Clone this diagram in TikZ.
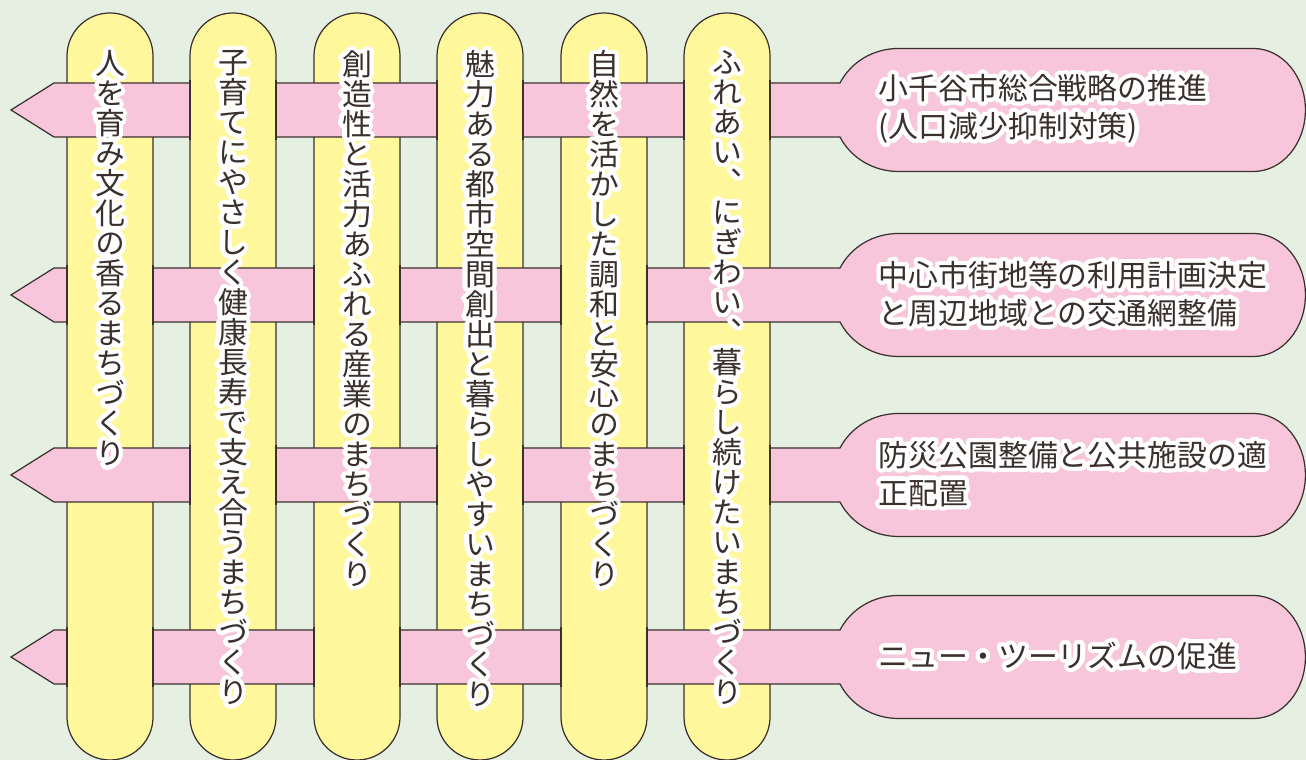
\documentclass[tikz,border=0pt]{standalone}
\usepackage{fontspec}
\usepackage[copies]{contour}
\setmainfont{Noto Sans CJK JP}
\newfontfamily\tatefont[RawFeature=+vert]{Noto Sans CJK JP}
\definecolor{meadow}{RGB}{229,240,227}
\definecolor{straw}{RGB}{255,247,155}
\definecolor{blush}{RGB}{247,198,218}
\definecolor{ink}{RGB}{58,48,46}
\contourlength{1.2pt}
\contournumber{32}

% one glyph per line, for the columns
\newcommand\tate[1]{\vbox{\baselineskip=0.3cm\lineskiplimit=-1cm\tatestep#1\relax}}
\newcommand\tatestep[1]{\ifx\relax#1\else\hbox to 0.3cm{\hss#1\hss}\expandafter\tatestep\fi}

\tikzset{
  rim/.style={draw=ink, line width=0.35pt},
  pillar/.style={rim, fill=straw},
  ribbon/.style={rim, fill=blush},
  tatelabel/.style={anchor=north, inner sep=0pt, text=ink, font=\tatefont\fontsize{8.5}{8.54}\selectfont},
  headlabel/.style={anchor=west, inner sep=0pt, text=ink, align=left, font=\fontsize{8.5}{10.8}\selectfont}
}

\begin{document}
\begin{tikzpicture}
        \useasboundingbox (0, 0) rectangle (13.06, 7.60);
        \fill[meadow] (0, 0) rectangle (13.06, 7.60);

        % pillars
        \draw[pillar] (0.67, 0.43) -- ++(0, 6.61) arc[start angle=180, end angle=0, radius=0.43] -- ++(0, -6.61) arc[start angle=0, end angle=-180, radius=0.43] -- cycle;
        \draw[pillar] (1.90, 0.43) -- ++(0, 6.61) arc[start angle=180, end angle=0, radius=0.43] -- ++(0, -6.61) arc[start angle=0, end angle=-180, radius=0.43] -- cycle;
        \draw[pillar] (3.14, 0.43) -- ++(0, 6.61) arc[start angle=180, end angle=0, radius=0.43] -- ++(0, -6.61) arc[start angle=0, end angle=-180, radius=0.43] -- cycle;
        \draw[pillar] (4.37, 0.43) -- ++(0, 6.61) arc[start angle=180, end angle=0, radius=0.43] -- ++(0, -6.61) arc[start angle=0, end angle=-180, radius=0.43] -- cycle;
        \draw[pillar] (5.61, 0.43) -- ++(0, 6.61) arc[start angle=180, end angle=0, radius=0.43] -- ++(0, -6.61) arc[start angle=0, end angle=-180, radius=0.43] -- cycle;
        \draw[pillar] (6.84, 0.43) -- ++(0, 6.61) arc[start angle=180, end angle=0, radius=0.43] -- ++(0, -6.61) arc[start angle=0, end angle=-180, radius=0.43] -- cycle;

        % ribbons pointing left
        \draw[ribbon] (0.11, 6.50) -- ++(0.43, 0.27) -- ++(7.86, 0) arc[start angle=153.96, end angle=90, x radius=0.65, y radius=0.615] -- ++(3.55, 0) arc[start angle=90, end angle=-90, x radius=0.52, y radius=0.615] -- ++(-3.55, 0) arc[start angle=270, end angle=206.04, x radius=0.65, y radius=0.615] -- ++(-7.86, 0) -- cycle;
        \draw[ribbon] (0.11, 4.65) -- ++(0.43, 0.27) -- ++(7.86, 0) arc[start angle=153.96, end angle=90, x radius=0.65, y radius=0.615] -- ++(3.55, 0) arc[start angle=90, end angle=-90, x radius=0.52, y radius=0.615] -- ++(-3.55, 0) arc[start angle=270, end angle=206.04, x radius=0.65, y radius=0.615] -- ++(-7.86, 0) -- cycle;
        \draw[ribbon] (0.11, 2.85) -- ++(0.43, 0.27) -- ++(7.86, 0) arc[start angle=153.96, end angle=90, x radius=0.65, y radius=0.615] -- ++(3.55, 0) arc[start angle=90, end angle=-90, x radius=0.52, y radius=0.615] -- ++(-3.55, 0) arc[start angle=270, end angle=206.04, x radius=0.65, y radius=0.615] -- ++(-7.86, 0) -- cycle;
        \draw[ribbon] (0.11, 1.03) -- ++(0.43, 0.27) -- ++(7.86, 0) arc[start angle=153.96, end angle=90, x radius=0.65, y radius=0.615] -- ++(3.55, 0) arc[start angle=90, end angle=-90, x radius=0.52, y radius=0.615] -- ++(-3.55, 0) arc[start angle=270, end angle=206.04, x radius=0.65, y radius=0.615] -- ++(-7.86, 0) -- cycle;

        % pillars passing over the ribbons
        \fill[straw] (1.90, 6.22) rectangle ++(0.86, 0.56);
        \fill[straw] (4.37, 6.22) rectangle ++(0.86, 0.56);
        \fill[straw] (6.84, 6.22) rectangle ++(0.86, 0.56);
        \draw[rim] (1.90, 6.20) -- ++(0, 0.60) (2.76, 6.20) -- ++(0, 0.60) (4.37, 6.20) -- ++(0, 0.60) (5.23, 6.20) -- ++(0, 0.60) (6.84, 6.20) -- ++(0, 0.60) (7.70, 6.20) -- ++(0, 0.60);

        \fill[straw] (0.67, 4.37) rectangle ++(0.86, 0.56);
        \fill[straw] (3.14, 4.37) rectangle ++(0.86, 0.56);
        \fill[straw] (5.61, 4.37) rectangle ++(0.86, 0.56);
        \draw[rim] (0.67, 4.35) -- ++(0, 0.60) (1.53, 4.35) -- ++(0, 0.60) (3.14, 4.35) -- ++(0, 0.60) (4.00, 4.35) -- ++(0, 0.60) (5.61, 4.35) -- ++(0, 0.60) (6.47, 4.35) -- ++(0, 0.60);

        \fill[straw] (1.90, 2.57) rectangle ++(0.86, 0.56);
        \fill[straw] (4.37, 2.57) rectangle ++(0.86, 0.56);
        \fill[straw] (6.84, 2.57) rectangle ++(0.86, 0.56);
        \draw[rim] (1.90, 2.55) -- ++(0, 0.60) (2.76, 2.55) -- ++(0, 0.60) (4.37, 2.55) -- ++(0, 0.60) (5.23, 2.55) -- ++(0, 0.60) (6.84, 2.55) -- ++(0, 0.60) (7.70, 2.55) -- ++(0, 0.60);

        \fill[straw] (0.67, 0.75) rectangle ++(0.86, 0.56);
        \fill[straw] (3.14, 0.75) rectangle ++(0.86, 0.56);
        \fill[straw] (5.61, 0.75) rectangle ++(0.86, 0.56);
        \draw[rim] (0.67, 0.73) -- ++(0, 0.60) (1.53, 0.73) -- ++(0, 0.60) (3.14, 0.73) -- ++(0, 0.60) (4.00, 0.73) -- ++(0, 0.60) (5.61, 0.73) -- ++(0, 0.60) (6.47, 0.73) -- ++(0, 0.60);

        % column texts
        \node[tatelabel] (c1) at (1.10, 7.10) {\contour{white}{\tate{人を育み文化の香るまちづくり}}};
        \node[tatelabel] (c2) at (2.33, 7.10) {\contour{white}{\tate{子育てにやさしく健康長寿で支え合うまちづくり}}};
        \node[tatelabel] (c3) at (3.57, 7.10) {\contour{white}{\tate{創造性と活力あふれる産業のまちづくり}}};
        \node[tatelabel] (c4) at (4.80, 7.10) {\contour{white}{\tate{魅力ある都市空間創出と暮らしやすいまちづくり}}};
        \node[tatelabel] (c5) at (6.04, 7.10) {\contour{white}{\tate{自然を活かした調和と安心のまちづくり}}};
        \node[tatelabel] (c6) at (7.27, 7.10) {\contour{white}{\tate{ふれあい、にぎわい、暮らし続けたいまちづくり}}};

        % head texts
        \node[headlabel] (h1) at (8.78, 6.49) {\contour{white}{小千谷市総合戦略の推進}\\\contour{white}{(人口減少抑制対策)}};
        \node[headlabel] (h2) at (8.78, 4.64) {\contour{white}{中心市街地等の利用計画決定}\\\contour{white}{と周辺地域との交通網整備}};
        \node[headlabel] (h3) at (8.78, 2.84) {\contour{white}{防災公園整備と公共施設の適}\\\contour{white}{正配置}};
        \node[headlabel] (h4) at (8.78, 1.02) {\contour{white}{ニュー・ツーリズムの促進}};
    \end{tikzpicture}
\end{document}
